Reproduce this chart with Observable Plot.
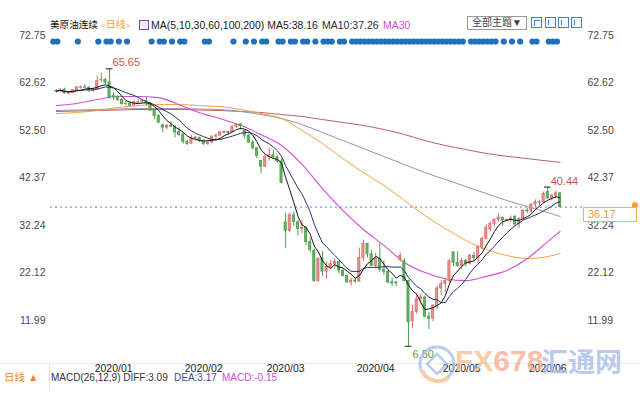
<!DOCTYPE html>
<html><head><meta charset="utf-8">
<script src="https://cdn.jsdelivr.net/npm/d3@7"></script>
<script src="https://cdn.jsdelivr.net/npm/@observablehq/plot@0.6"></script>
<style>
html,body{margin:0;padding:0;background:#fff;}
#wrap{position:relative;width:640px;height:400px;overflow:hidden;font-family:"Liberation Sans","Noto Sans CJK SC",sans-serif;}
#wrap svg{position:absolute;left:0;top:0;}
.ov{position:absolute;white-space:nowrap;font-size:10.5px;line-height:12px;}
.ib{position:absolute;width:9px;height:9px;border:1px solid #4a7fd0;background:#f4f8ff;}
</style></head><body><div id="wrap"></div>
<script>
// ---- candle data (index 0 = 2019/12/18 ... 123 = 2020/06/11) ----
const opens = [60.8,60.9,61.2,60.4,60.5,61.1,61.6,61.7,61.6,61.0,61.2,63.2,63.3,62.8,59.9,59.6,59.0,58.1,58.2,57.8,58.4,58.5,58.7,58.2,56.7,55.6,53.6,53.1,53.5,53.3,52.2,51.6,50.1,49.7,50.8,50.9,50.3,49.6,49.9,51.2,51.4,52.0,52.2,52.1,53.3,53.8,52.4,51.4,49.9,48.7,46.0,44.8,46.8,47.2,46.8,45.9,32.9,31.1,34.4,32.9,31.5,31.7,28.7,26.9,20.4,25.2,22.4,23.4,24.0,24.5,22.6,21.5,20.1,20.5,20.3,25.3,28.3,26.1,23.6,25.1,22.8,22.4,20.1,20.1,24.9,24.6,20.4,11.8,13.8,16.5,16.9,12.8,12.4,15.1,18.8,19.8,20.4,26.5,24.3,23.6,24.7,24.1,25.8,25.3,27.6,29.4,31.4,32.6,33.5,33.9,33.3,33.4,34.1,32.5,33.6,35.4,35.3,36.7,37.0,37.2,39.4,38.0,38.6,39.1];
const highs = [61.2,61.4,61.5,60.8,61.2,61.8,62.0,62.3,61.9,61.6,64.1,64.7,63.6,65.65,60.5,59.9,59.3,58.7,58.5,58.8,59.0,59.0,59.7,58.4,56.9,55.9,53.9,53.8,54.3,53.6,53.1,51.9,50.4,51.5,51.3,51.1,50.5,50.3,51.3,51.7,52.2,52.4,52.4,53.5,54.0,54.0,52.5,51.7,50.4,48.8,46.1,47.4,48.7,48.3,47.0,46.4,34.9,34.9,35.1,33.3,33.2,31.7,29.4,27.2,25.2,26.7,24.5,24.8,25.2,24.5,22.9,21.6,21.0,21.1,27.4,29.1,28.4,27.0,26.3,28.4,24.7,22.6,21.0,20.3,26.4,25.2,20.6,15.2,17.7,17.6,17.2,13.7,15.4,19.3,20.5,21.0,25.0,26.7,26.7,25.2,25.0,26.1,26.5,27.9,29.8,32.4,33.0,33.6,34.7,34.0,33.6,34.3,34.4,33.9,35.6,35.9,36.9,37.7,37.6,39.4,40.44,38.9,39.6,39.3];
const lows = [60.4,60.6,60.3,60.1,60.4,61.0,61.3,61.5,60.6,60.6,61.0,62.7,62.3,59.2,58.9,58.7,57.9,57.7,57.4,57.7,58.2,58.3,57.7,56.6,54.8,53.9,52.1,52.7,53.1,50.9,51.2,49.6,49.3,49.6,50.3,49.9,49.3,49.3,49.9,50.4,51.3,51.8,51.4,52.0,52.9,52.6,50.7,49.8,48.4,46.5,43.3,44.6,46.0,46.4,45.6,41.1,27.3,30.8,32.1,30.0,30.4,28.0,26.4,20.1,20.1,21.4,20.8,23.0,22.9,22.0,21.3,19.9,19.3,19.9,20.2,24.6,25.3,23.4,23.0,22.3,21.6,19.8,19.2,19.2,24.5,20.2,6.50,10.3,13.4,15.3,12.5,10.1,11.7,14.3,17.3,17.9,20.0,23.5,23.3,22.8,23.4,23.8,24.6,24.1,27.1,29.2,30.9,32.0,33.0,32.0,33.1,32.9,32.0,31.6,33.4,34.8,34.9,36.1,36.4,37.0,37.8,37.5,38.0,35.9];
const closes = [60.9,61.2,60.4,60.5,61.1,61.7,61.7,61.6,61.1,61.2,63.0,63.3,62.7,59.6,59.6,59.0,58.1,58.2,57.8,58.5,58.5,58.7,58.4,56.7,55.6,54.2,53.1,53.5,53.3,52.1,51.6,50.1,49.6,50.8,51.0,50.3,49.6,49.9,51.2,51.4,52.1,52.2,52.0,53.3,53.8,53.4,51.4,49.9,48.7,47.1,44.8,46.8,47.2,46.8,45.9,41.3,31.1,34.4,33.0,31.5,31.7,28.7,27.0,20.4,25.2,22.4,23.4,24.0,24.5,22.6,21.5,20.1,20.5,20.3,25.3,28.3,26.1,23.6,25.1,22.8,22.4,20.1,19.9,19.9,25.8,20.4,11.6,13.8,16.5,16.9,12.8,12.3,15.1,18.8,19.8,20.4,24.6,24.3,23.6,24.7,24.1,25.8,25.3,27.6,29.4,31.8,32.6,33.5,33.9,33.3,33.4,33.7,32.5,33.6,35.4,35.3,36.7,37.2,37.2,39.0,38.0,38.6,39.1,36.17];

const maIdx  = [0,5,10,15,20,25,30,35,40,45,50,55,60,65,70,75,80,85,90,95,100,105,110,115,120,123];
const ma30   = [57.8,58.25,59.1,59.75,59.75,59.5,58.0,56.3,55.05,53.6,51.6,49.3,45.25,40.1,35.4,31.4,28.0,24.35,22.2,20.9,20.5,21.4,22.65,25.2,28.8,30.96];
const ma60   = [56.12,56.33,56.76,57.4,57.8,58.04,58.04,57.8,57.6,56.97,56.12,55.05,52.5,49.72,46.5,43.54,40.77,37.57,34.37,31.6,29.04,27.12,25.84,25.2,25.63,26.27];
const ma100  = [56.76,56.86,56.97,57.07,57.18,57.18,57.18,57.07,56.97,56.55,55.9,55.05,53.77,52.07,50.36,48.66,46.95,45.25,43.54,42.05,40.55,39.06,37.57,36.29,35.01,34.16];
const ma200  = [56.55,56.65,56.76,56.86,56.97,56.97,56.97,56.86,56.76,56.55,56.33,55.9,55.48,54.84,54.2,53.56,52.7,51.64,50.36,49.3,48.45,47.6,47.0,46.5,46.0,45.7];

// ---- axes ----
const yTicks = [72.75,62.62,52.50,42.37,32.24,22.12,11.99];
const xTickIdx = [9,31,51,73,94,115];
const xTickLabels = ["2020/01","2020/02","2020/03","2020/04","2020/05","2020/06"];

// ---- news-event dots (candle indices) ----
const dotIdx = [0,1,6,11,13,14,16,18,24,26,27,29,31,32,37,38,44,47,49,51,52,55,56,58,59,61,62,64,66,67,68,70,71,73,74,75,76,77,78,79,80,81,82,83,84,85,86,87,88,89,90,91,92,93,94,95,96,97,98,99,100,102,103,104,105,106,107,108,110,112,114,117,118,121,122,123];

// ---- annotations ----
const annIdx = [13,120,86];
const annVal = [65.65,40.44,6.50];
const annText = ["65.65","40.44","6.50"];

const candles = opens.map((o,i)=>({i, open:o, high:highs[i], low:lows[i], close:closes[i]}));
const maRows = maIdx.map((i,k)=>({i, ma30:ma30[k], ma60:ma60[k], ma100:ma100[k], ma200:ma200[k]}));
const ann = annIdx.map((i,k)=>({i, v:annVal[k], t:annText[k]}));
const lastClose = closes[closes.length-1];

const upFill="#e79393", upStroke="#d76d6d", dnFill="#66b266", dnStroke="#4f9e4f";
const isUp = d => d.close >= d.open;
const FONT = '"Liberation Sans","Noto Sans CJK SC",sans-serif';

const chart = Plot.plot({
  width:640, height:400,
  marginLeft:50, marginRight:58, marginTop:30, marginBottom:37,
  style:{fontFamily:FONT, fontSize:"10.5px", background:"transparent", overflow:"visible"},
  x:{type:"linear", domain:[0,123], range:[55.8,559.5], axis:null},
  y:{type:"linear", domain:[11.99,72.75], range:[320,35], axis:null},
  marks:[
    Plot.ruleY([lastClose], {stroke:"#4f8ad0", strokeDasharray:"2,3", strokeWidth:1}),
    Plot.lineY(maRows, {x:"i", y:"ma200", stroke:"#b96262", strokeWidth:1, curve:"monotone-x"}),
    Plot.lineY(maRows, {x:"i", y:"ma100", stroke:"#9896ad", strokeWidth:1, curve:"monotone-x"}),
    Plot.lineY(maRows, {x:"i", y:"ma60", stroke:"#eea448", strokeWidth:1, curve:"monotone-x"}),
    Plot.lineY(maRows, {x:"i", y:"ma30", stroke:"#d54fd5", strokeWidth:1.1, curve:"monotone-x"}),
    Plot.ruleX(candles, {x:"i", y1:"low", y2:"high", stroke:d=>isUp(d)?upStroke:dnStroke, strokeWidth:1}),
    Plot.rect(candles, {x1:d=>d.i-0.26, x2:d=>d.i+0.26, y1:"open", y2:"close",
      fill:d=>isUp(d)?upFill:dnFill, stroke:d=>isUp(d)?upStroke:dnStroke, strokeWidth:0.8}),
    Plot.lineY(candles, Plot.windowY({k:10, anchor:"end", reduce:"mean"}, {x:"i", y:"close", stroke:"#24336b", strokeWidth:1})),
    Plot.lineY(candles, Plot.windowY({k:5, anchor:"end", reduce:"mean"}, {x:"i", y:"close", stroke:"#151515", strokeWidth:1})),
    Plot.dot(dotIdx, {x:d=>d, frameAnchor:"top", dy:11, dx:-3, r:3.1, fill:"#2170bd"}),
    Plot.text(yTicks, {y:d=>d, text:d=>d.toFixed(2), frameAnchor:"left", textAnchor:"end", dx:-5, fill:"#4a4a4a"}),
    Plot.text(yTicks, {y:d=>d, text:d=>d.toFixed(2), frameAnchor:"right", textAnchor:"start", dx:5, fill:"#4a4a4a"}),
    Plot.text(xTickIdx, {x:d=>d, text:(d,k)=>xTickLabels[k], frameAnchor:"bottom", dy:8, dx:1.5, textAnchor:"start", fill:"#222"}),
    Plot.ruleY(ann, {y:"v", x1:d=>d.i-0.8, x2:d=>d.i+0.8, stroke:"#222", strokeWidth:1}),
    Plot.text(ann.filter(d=>d.v>30), {x:"i", y:"v", text:"t", dx:3, dy:-6, textAnchor:"start", fill:"#d4524c", fontSize:11}),
    Plot.text(ann.filter(d=>d.v<30), {x:"i", y:"v", text:"t", dx:4, dy:8, textAnchor:"start", fill:"#4fa64f", fontSize:11})
  ]
});

const wrap = document.getElementById("wrap");
wrap.appendChild(chart);

function ov(html, left, top, style){
  const d = document.createElement("div");
  d.className = "ov";
  d.style.left = left+"px"; d.style.top = top+"px";
  if (style) d.setAttribute("style", d.getAttribute("style")+";"+style);
  d.innerHTML = html;
  wrap.appendChild(d);
  return d;
}

// header legend
ov('<span style="color:#111">美原油连续</span>', 50, 19, 'font-size:9.6px');
ov('<span style="color:#f0a43c;font-size:8px">&lt;</span><span style="color:#f0a43c">日线</span><span style="color:#f0a43c;font-size:8px">&gt;</span>', 101, 19, 'font-size:10px');
ov('', 139, 20, 'width:8px;height:8px;border:1px solid #6a4fa6;background:#fbe8f4');
ov('<span style="color:#1a1a1a">MA(5,10,30,60,100,200) MA5:38.16</span>', 151, 19);
ov('<span style="color:#2a2a3a">MA10:37.26</span>', 322, 19);
ov('<span style="color:#d54fd5">MA30</span>', 383, 19);

// top-right controls
ov('全部主题▼', 467, 16, 'width:58px;height:12px;border:1px solid #999;color:#444;font-size:10px;text-align:center;line-height:12px');
[531,545,558,571].forEach((x,k)=>{
  const b = document.createElement("div"); b.className="ib";
  b.style.left=x+"px"; b.style.top="17px";
  b.innerHTML = '<div style="position:absolute;left:2px;top:2px;width:5px;height:5px;border-left:1px solid #4a7fd0;border-top:'+(k===0?'1px solid #4a7fd0':'0')+'"></div>';
  wrap.appendChild(b);
});

// current price box
const sy = chart.scale("y");
const yp = sy.apply(lastClose);
ov(lastClose.toFixed(2), 583, Math.round(yp), 'width:48px;height:13px;border:1px solid #f0b35a;background:#fff;color:#eb9a35;font-size:11px;line-height:13px;padding-left:4px');
ov('', 632, Math.round(yp)-5, 'width:6px;height:5px;background:#f0a540;border-radius:3px 3px 0 0');

// bottom bar
ov('', 0, 363, 'width:640px;height:0;border-top:1px solid #ececec');
ov('', 49, 363, 'width:0;height:26px;border-left:1px solid #e3e3e3');
ov('<span style="color:#e8892c">日线 ▲</span>', 4, 371);
ov('<span style="color:#333">MACD(26,12,9) DIFF:3.09</span>', 51, 372, 'font-size:10px');
ov('<span style="color:#3b4e92">DEA:3.17</span>', 174, 372, 'font-size:10px');
ov('<span style="color:#d24fd2">MACD:-0.15</span>', 222, 372, 'font-size:10px');

// watermark
ov('<svg width="44" height="44" viewBox="0 0 44 44"><circle cx="22" cy="22" r="17" fill="none" stroke="#9db8e8" stroke-width="3"/><path d="M7 28 A17 17 0 0 0 34 35" fill="none" stroke="#f5b98a" stroke-width="4"/><rect x="15" y="15" width="14" height="14" transform="rotate(45 22 22)" fill="none" stroke="#9db8e8" stroke-width="2.5"/></svg>', 415, 342, 'opacity:0.7;line-height:0');
ov('<span style="color:#f6be8e">FX</span><span style="color:#f5a98c">678</span>', 455, 344, 'font-size:30px;line-height:34px;font-weight:bold;opacity:0.75');
ov('<span style="color:#a9bdea">汇通网</span>', 541, 344, 'font-size:27px;line-height:34px;font-weight:bold;opacity:0.8;font-family:"Noto Sans CJK SC",sans-serif');
</script>
</body></html>
